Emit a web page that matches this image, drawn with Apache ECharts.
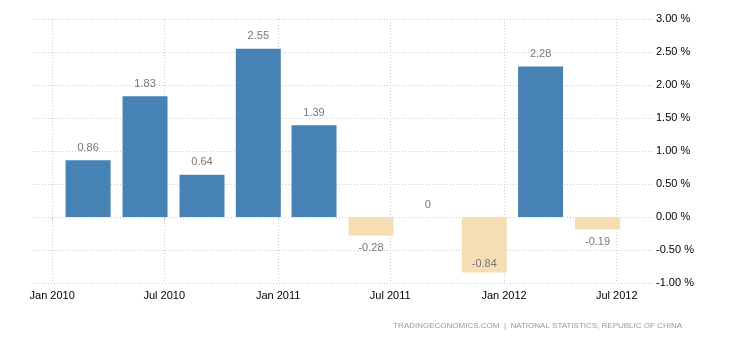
<!DOCTYPE html>
<html>
<head>
<meta charset="utf-8">
<script src="https://cdn.jsdelivr.net/npm/echarts@6/dist/echarts.min.js"></script>
<style>
  html, body { margin: 0; padding: 0; background: #fff; }
  #chart { width: 730px; height: 340px; }
</style>
</head>
<body>
<div id="chart"></div>
<script>
// quarterly values, bars sit a month before the quarter end
var dates = ['2010-02-28', '2010-05-31', '2010-08-31', '2010-11-30', '2011-02-28',
             '2011-05-31', '2011-08-31', '2011-11-30', '2012-02-29', '2012-05-31']
var values = [0.86, 1.83, 0.64, 2.55, 1.39, -0.28, 0, -0.84, 2.28, -0.19]
var tickDates = ['2010-01-01', '2010-07-01', '2011-01-01', '2011-07-01', '2012-01-01', '2012-07-01']
var monthNames = ['Jan', 'Feb', 'Mar', 'Apr', 'May', 'Jun', 'Jul', 'Aug', 'Sep', 'Oct', 'Nov', 'Dec']

var ts = function (s) { return new Date(s + 'T00:00:00Z').getTime() }
var tickValues = tickDates.map(ts)

var chart = echarts.init(document.getElementById('chart'))

var barData = values.map(function (v, i) {
  var item = {
    value: [ts(dates[i]), v],
    itemStyle: { color: v < 0 ? '#f5deb3' : '#4682b4' },
    label: { position: v < 0 ? 'bottom' : 'top' }
  }
  // lowest bar keeps its label inside, above the bottom of the plot
  if (v < -0.5) item.label = { position: 'insideBottom', distance: 3 }
  return item
})

chart.setOption({
  animation: false,
  title: {
    text: 'TRADINGECONOMICS.COM  |  NATIONAL STATISTICS, REPUBLIC OF CHINA',
    right: 43,
    bottom: 5,
    textStyle: {
      color: '#999',
      fontSize: 8,
      fontWeight: 'normal',
      fontFamily: 'Liberation Sans'
    }
  },
  grid: {
    left: 33,
    right: 78,
    top: 19,
    bottom: 57
  },
  xAxis: {
    type: 'value',
    min: ts('2009-12-01'),
    max: ts('2012-08-27'),
    axisLine: { show: false },
    axisTick: {
      show: true,
      customValues: tickValues,
      length: 3,
      lineStyle: { color: '#ccc' }
    },
    axisLabel: {
      customValues: tickValues,
      margin: 7,
      color: '#000',
      fontSize: 11,
      fontFamily: 'Liberation Sans',
      formatter: function (val) {
        var d = new Date(val)
        return monthNames[d.getUTCMonth()] + ' ' + d.getUTCFullYear()
      }
    },
    splitLine: {
      show: true,
      lineStyle: { color: '#ccc', type: [1, 2] }
    }
  },
  yAxis: {
    type: 'value',
    position: 'right',
    min: -1,
    max: 3,
    interval: 0.5,
    axisLine: { show: false },
    axisTick: { show: false },
    axisLabel: {
      margin: 4,
      color: '#000',
      fontSize: 11,
      fontFamily: 'Liberation Sans',
      formatter: function (v) { return v.toFixed(2) + ' %' }
    },
    splitLine: {
      lineStyle: { color: '#ccc', type: [1, 2] }
    }
  },
  series: [{
    type: 'bar',
    barWidth: 45,
    data: barData,
    label: {
      show: true,
      distance: 7,
      color: '#777',
      fontSize: 11,
      fontFamily: 'Liberation Sans',
      formatter: function (p) { return String(p.value[1]) }
    }
  }]
})
</script>
</body>
</html>
